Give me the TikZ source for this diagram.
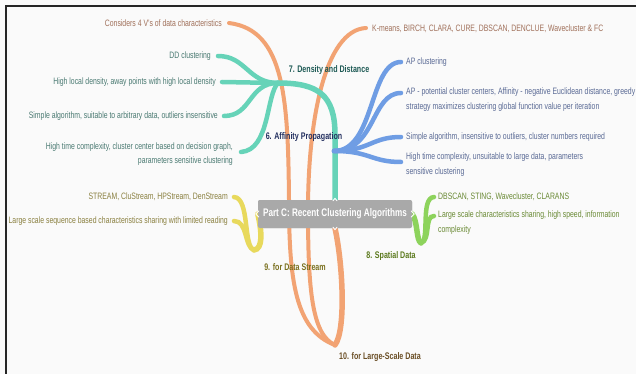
\documentclass[tikz,border=0pt]{standalone}
\usepackage{fontspec}
\setmainfont{Liberation Sans}[FakeStretch=0.74]
\usetikzlibrary{calc}

% branch colours
\definecolor{wOrange}{HTML}{F2A373}
\definecolor{wTeal}{HTML}{66D3B8}
\definecolor{wBlue}{HTML}{6F9DE4}
\definecolor{wYellow}{HTML}{E8D95C}
\definecolor{wGreen}{HTML}{8DD35C}
\definecolor{hubGray}{HTML}{A9A9A9}
% text colours
\definecolor{tOrange}{HTML}{A0705A}
\definecolor{tTeal}{HTML}{4A7A72}
\definecolor{tBlue}{HTML}{5A6A95}
\definecolor{tYellow}{HTML}{8A8040}
\definecolor{tGreen}{HTML}{6A8A35}
\definecolor{lTeal}{HTML}{1E5A55}
\definecolor{lBlue}{HTML}{243060}
\definecolor{lGreen}{HTML}{5C7A1E}
\definecolor{lYellow}{HTML}{7A701E}
\definecolor{lOrange}{HTML}{6A4E25}

\tikzset{
  leafL/.style={anchor=east, align=right, inner sep=0pt,
    font=\fontsize{9.3}{14.5}\selectfont},
  leafR/.style={anchor=west, align=left, inner sep=0pt,
    font=\fontsize{9.3}{15}\selectfont},
  blabel/.style={inner sep=0pt, font=\bfseries\fontsize{9.6}{11}\selectfont},
  hubbox/.style={fill=hubGray, text=white, rounded corners=2pt,
    minimum width=154pt, minimum height=28pt, inner sep=0pt,
    font=\bfseries\fontsize{11}{13}\selectfont},
  wire/.style={line width=4.5pt, line cap=round},
  trunk/.style={line width=5.5pt, line cap=round},
  chevron/.style={white, line width=0.9pt, line cap=round, line join=round},
}

\begin{document}
\begin{tikzpicture}[x=1pt,y=-1pt]
\useasboundingbox (0,0) rectangle (636,374);
\clip (0,0) rectangle (636,374);
\fill[white!98!black] (0,0) rectangle (636,374);
\draw[line width=2pt, black!85] (6,380) -- (6,6) -- (640,6);

% centre topic (placed first so that wires can refer to it)
\node[hubbox] (hub) at (335,214) {Part C: Recent Clustering Algorithms};

% branch junctions
\coordinate (j7) at (278,83);
\coordinate (j6) at (334,151);
\coordinate (j10) at (335,345);
\coordinate (j9) at (254,250);
\coordinate (j8) at (421,243);

% ---- leaves
\node[leafL, text=tOrange] (o1) at (222,23) {Considers 4 V's of data characteristics};
\node[leafR, text=tOrange] (o2) at (372,29) {K-means, BIRCH, CLARA, CURE, DBSCAN, DENCLUE, Wavecluster \& FC};

\node[leafL, text=tTeal] (t1) at (211,56) {DD clustering};
\node[leafL, text=tTeal] (t2) at (216,82) {High local density, away points with high local density};
\node[leafL, text=tTeal] (t3) at (218,116) {Simple algorithm, suitable to arbitrary data, outliers insensitive};
\node[leafL, text=tTeal] (t4) at (233,154) {High time complexity, cluster center based on decision graph,\\parameters sensitive clustering};

\node[leafR, text=tBlue] (b1) at (406,62) {AP clustering};
\node[leafR, text=tBlue] (b2) at (406,100) {AP - potential cluster centers, Affinity - negative Euclidean distance, greedy\\strategy maximizes clustering global function value per iteration};
\node[leafR, text=tBlue] (b3) at (406,137) {Simple algorithm, insensitive to outliers, cluster numbers required};
\node[leafR, text=tBlue] (b4) at (406,165) {High time complexity, unsuitable to large data, parameters\\sensitive clustering};

\node[leafL, text=tYellow] (y1) at (228,197) {STREAM, CluStream, HPStream, DenStream};
\node[leafL, text=tYellow] (y2) at (228,221) {Large scale sequence based characteristics sharing with limited reading};

\node[leafR, text=tGreen] (g1) at (438,197) {DBSCAN, STING, Wavecluster, CLARANS};
\node[leafR, text=tGreen] (g2) at (438,223) {Large scale characteristics sharing, high speed, information\\complexity};

% ---- 10: large-scale data (orange)
\begin{scope}[wOrange]
\draw[trunk] (hub.south) .. controls (343,265) and (346,330) .. (j10);
\draw[wire, line width=4pt] (j10) .. controls (295,330) and (289,280) .. (289,200)
  .. controls (288,100) and (285,30) .. ($(o1.east)+(7,0)$);
\draw[wire, line width=4pt] (j10) .. controls (312,335) and (308,290) .. (308,210)
  .. controls (308,120) and (325,30) .. ($(o2.west)+(-6,-1)$);
\end{scope}

% ---- 7: density and distance (teal)
\begin{scope}[wTeal]
\draw[trunk] (hub.north) -- ++(0,-65) .. controls +(0,-40) and +(40,0) .. (j7);
\draw[wire] (j7) .. controls +(-30,0) and +(28,0) .. ($(t1.east)+(7,0)$);
\draw[wire] (j7) -- ($(t2.east)+(6,0)$);
\draw[wire] (j7) .. controls +(-30,0) and +(28,0) .. ($(t3.east)+(6,0)$);
\draw[wire] (j7) .. controls (266,95) and (270,150) .. ($(t4.east)+(8,-2)$);
\end{scope}

% ---- 6: affinity propagation (blue)
\begin{scope}[wBlue]
\draw[wire] (j6) .. controls +(41,0) and +(-32,0) .. ($(b1.west)+(-5,0)$);
\draw[wire] (j6) .. controls +(42,0) and +(-30,0) .. ($(b2.west)+(-5,-7)$);
\draw[wire] (j6) .. controls +(36,0) and +(-30,0) .. ($(b3.west)+(-5,0)$);
\draw[wire] (j6) .. controls +(36,0) and +(-30,0) .. ($(b4.west)+(-5,-3)$);
\end{scope}

% ---- 9: data stream (yellow)
\begin{scope}[wYellow]
\draw[trunk] (hub.west) .. controls (262,232) and (263,249) .. (j9);
\draw[wire] (j9) .. controls (243,247) and (250,198) .. ($(y1.east)+(6,0)$);
\draw[wire] (j9) .. controls (244,247) and (248,221) .. ($(y2.east)+(6,0)$);
\end{scope}

% ---- 8: spatial data (green)
\begin{scope}[wGreen]
\draw[trunk] (hub.east) .. controls (418,222) and (416,240) .. (j8);
\draw[wire] (j8) .. controls (430,240) and (420,198) .. ($(g1.west)+(-4,0)$);
\draw[wire] (j8) .. controls (431,240) and (424,216) .. ($(g2.west)+(-4,-7)$);
\end{scope}

% centre topic again, on top of the wire ends
\node[hubbox] at (hub) {Part C: Recent Clustering Algorithms};
% small white chevrons where the branches leave the centre topic
\draw[chevron] ($(hub.west)+(1,-3)$) -- ($(hub.west)+(-2,0)$) -- ($(hub.west)+(1,3)$);
\draw[chevron] ($(hub.east)+(-1,-3)$) -- ($(hub.east)+(2,0)$) -- ($(hub.east)+(-1,3)$);
\draw[chevron] ($(hub.north)+(-2,1)$) -- ($(hub.north)+(0,-1.5)$) -- ($(hub.north)+(2,1)$);
\draw[chevron] ($(hub.south)+(-2,-1)$) -- ($(hub.south)+(0,1.5)$) -- ($(hub.south)+(2,-1)$);

% ---- branch labels, above the wires
\node[blabel, text=lTeal] (l7) at (329,70) {7. Density and Distance};
\node[blabel, text=lBlue] (l6) at (304,137) {6. Affinity Propagation};
\node[blabel, text=lGreen] (l8) at (391,256) {8. Spatial Data};
\node[blabel, text=lYellow] (l9) at (295,267) {9. for Data Stream};
\node[blabel, text=lOrange] (l10) at (380,357) {10. for Large-Scale Data};
\end{tikzpicture}
\end{document}
